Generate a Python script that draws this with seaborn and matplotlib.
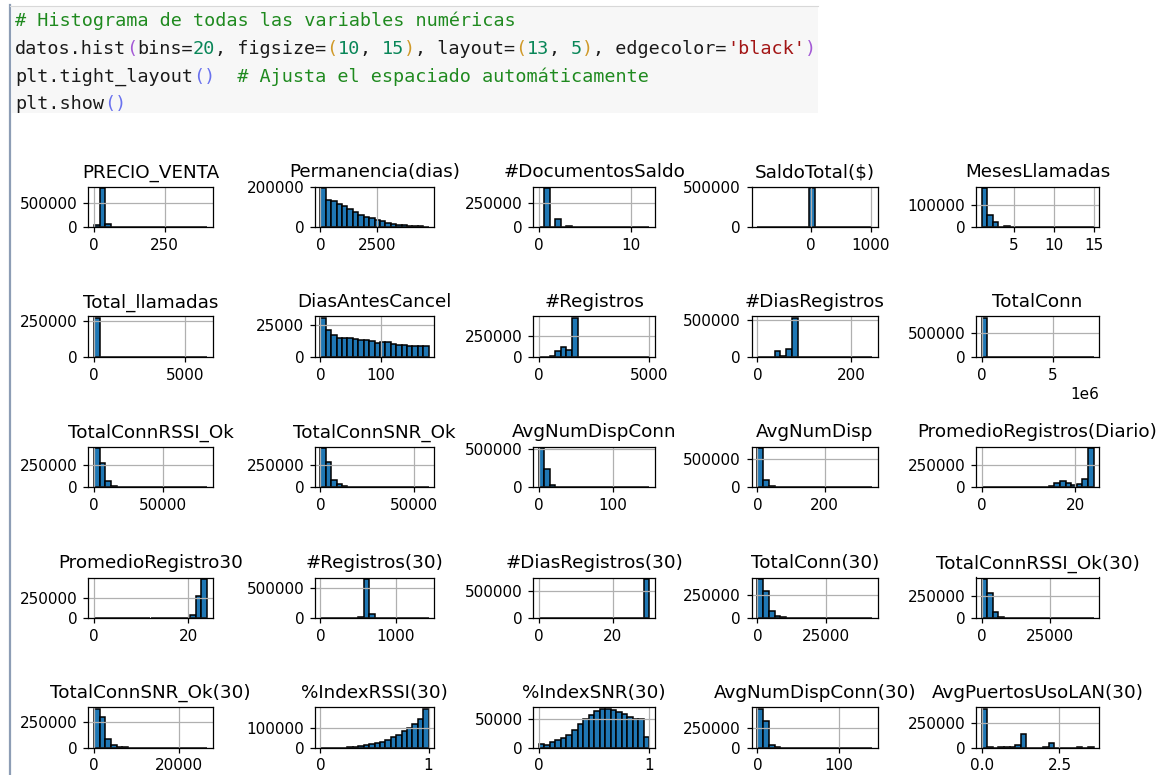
import numpy as np
import pandas as pd
import matplotlib
matplotlib.use("Agg")
import matplotlib.pyplot as plt
from matplotlib.patches import Rectangle
from matplotlib.lines import Line2D
import seaborn as sns

# ---------------- data ----------------
titles = ["PRECIO_VENTA", "Permanencia(dias)", "#DocumentosSaldo", "SaldoTotal($)", "MesesLlamadas",
          "Total_llamadas", "DiasAntesCancel", "#Registros", "#DiasRegistros", "TotalConn",
          "TotalConnRSSI_Ok", "TotalConnSNR_Ok", "AvgNumDispConn", "AvgNumDisp", "PromedioRegistros(Diario)",
          "PromedioRegistro30", "#Registros(30)", "#DiasRegistros(30)", "TotalConn(30)", "TotalConnRSSI_Ok(30)",
          "TotalConnSNR_Ok(30)", "%IndexRSSI(30)", "%IndexSNR(30)", "AvgNumDispConn(30)", "AvgPuertosUsoLAN(30)"]

# data range of every variable (min, max) -> 20 equal bins, as pandas hist does
x_min = [0, 0, 0, -894, 1,
         0, 0, 0, 0, 0,
         0, 0, 0, 0, 0,
         0, 0, 0, 0, 0,
         0, 0, 0, 0, 0]
x_max = [400, 4750, 12, 1021, 15,
         6200, 180, 5000, 245, 7.9e6,
         82000, 58000, 150, 340, 24,
         24, 1440, 30, 42000, 41000,
         26500, 1, 1, 140, 3.6]

precio_venta = [40000, 806000, 75000, 12000, 3000, 1000, 500, 300, 200, 100, 80, 50, 30, 20, 10, 10, 5, 5, 2, 1]
permanencia = [191000, 135000, 128000, 115000, 104000, 92000, 76000, 62000, 52000, 44000,
               36000, 30000, 22000, 18000, 12000, 9000, 7000, 5000, 4000, 3000]
documentos_saldo = [8000, 403000, 0, 83000, 0, 12000, 2000, 0, 800, 0, 400, 200, 0, 100, 0, 50, 30, 0, 10, 5]
saldo_total = [5, 5, 10, 10, 20, 30, 60, 150, 800, 485000, 9000, 1500, 600, 300, 150, 80, 40, 20, 10, 5]
meses_llamadas = [178000, 57000, 22000, 0, 5000, 2500, 0, 1200, 700, 0, 400, 250, 150, 0, 100, 60, 0, 40, 30, 20]
total_llamadas = [270000, 1500, 300, 100, 50, 20, 10, 5, 3, 2, 1, 1, 1, 0, 0, 1, 0, 0, 0, 1]
dias_antes_cancel = [30500, 21500, 17500, 15000, 15000, 15000, 14200, 13200, 13200, 13000,
                     11500, 12200, 12000, 10500, 10000, 9500, 9000, 8500, 9000, 9000]
registros = [3000, 8000, 20000, 75000, 115000, 90000, 450000, 2000, 500, 200, 100, 50, 30, 20, 10, 10, 5, 5, 2, 1]
dias_registros = [3000, 5000, 8000, 80000, 15000, 105000, 515000, 500, 100, 50, 20, 10, 5, 5, 2, 1, 1, 1, 0, 1]
total_conn = [815000, 3000, 500, 100, 50, 20, 10, 5, 3, 2, 1, 1, 1, 0, 0, 0, 0, 0, 0, 1]
total_conn_rssi = [433000, 275000, 70000, 18000, 5000, 1500, 600, 300, 150, 80, 50, 30, 20, 10, 10, 5, 3, 2, 1, 1]
total_conn_snr = [430000, 275000, 85000, 32000, 12000, 4000, 1500, 600, 300, 150, 80, 50, 30, 20, 10, 5, 3, 2, 1, 1]
avg_num_disp_conn = [510000, 240000, 30000, 5000, 1500, 500, 200, 100, 50, 30, 20, 10, 5, 5, 3, 2, 1, 1, 1, 1]
avg_num_disp = [680000, 130000, 20000, 4000, 1000, 400, 200, 100, 50, 30, 20, 10, 5, 5, 3, 2, 1, 1, 1, 1]
prom_reg_diario = [500, 300, 300, 400, 500, 600, 800, 1000, 1500, 2500, 5000, 8000, 15000, 45000,
                   72000, 45000, 25000, 38000, 100000, 445000]
prom_reg_30 = [200, 0, 0, 0, 0, 0, 0, 500, 800, 1000, 1200, 1500, 1800, 2200, 2800, 3500, 8000, 45000, 280000, 490000]
registros_30 = [1500, 1000, 1000, 1200, 1500, 2000, 4000, 25000, 650000, 65000, 1500, 500, 300, 200, 100, 80, 50, 30, 20, 10]
dias_registros_30 = [300, 500, 600, 700, 800, 900, 1000, 1000, 1100, 1200, 1300, 1400, 1500, 1600,
                     2000, 2500, 3000, 4000, 8000, 700000]
total_conn_30 = [415000, 295000, 78000, 24000, 9000, 3000, 1200, 500, 200, 100, 60, 40, 20, 15, 10, 5, 3, 2, 1, 1]
total_conn_rssi_30 = [435000, 285000, 65000, 15000, 5000, 1500, 600, 300, 150, 80, 50, 30, 20, 10, 5, 5, 3, 2, 1, 1]
total_conn_snr_30 = [380000, 300000, 85000, 22000, 6000, 2000, 700, 300, 150, 80, 50, 30, 20, 10, 5, 5, 3, 2, 1, 1]
index_rssi_30 = [200, 200, 300, 500, 800, 2500, 5000, 8000, 12000, 17000, 22000, 31000, 40000, 54000,
                 66000, 83000, 100000, 117000, 143000, 195000]
index_snr_30 = [6000, 4500, 10000, 14000, 17000, 23000, 32000, 41000, 50000, 58000, 64000, 68500,
                68500, 67000, 63000, 59000, 55000, 51000, 50500, 18000]
avg_num_disp_conn_30 = [490000, 335000, 30000, 3000, 800, 300, 150, 80, 50, 30, 20, 10, 5, 5, 3, 2, 1, 1, 1, 1]
avg_puertos_lan_30 = [400000, 3000, 2000, 2500, 3000, 4000, 25000, 140000, 1500, 1500, 2000, 10000, 50000,
                      1000, 500, 500, 1000, 7000, 300, 6000]

all_counts = [precio_venta, permanencia, documentos_saldo, saldo_total, meses_llamadas,
              total_llamadas, dias_antes_cancel, registros, dias_registros, total_conn,
              total_conn_rssi, total_conn_snr, avg_num_disp_conn, avg_num_disp, prom_reg_diario,
              prom_reg_30, registros_30, dias_registros_30, total_conn_30, total_conn_rssi_30,
              total_conn_snr_30, index_rssi_30, index_snr_30, avg_num_disp_conn_30, avg_puertos_lan_30]

x_ticks = [[0, 250], [0, 2500], [0, 10], [0, 1000], [5, 10, 15],
           [0, 5000], [0, 100], [0, 5000], [0, 200], [0, 5e6],
           [0, 50000], [0, 50000], [0, 100], [0, 200], [0, 20],
           [0, 20], [0, 1000], [0, 20], [0, 25000], [0, 25000],
           [0, 20000], [0, 1], [0, 1], [0, 100], [0, 2.5]]
y_ticks = [[0, 500000], [0, 200000], [0, 250000], [0, 500000], [0, 100000],
           [0, 250000], [0, 25000], [0, 250000], [0, 500000], [0, 500000],
           [0, 250000], [0, 250000], [0, 500000], [0, 500000], [0, 250000],
           [0, 250000], [0, 500000], [0, 500000], [0, 250000], [0, 250000],
           [0, 250000], [0, 100000], [0, 50000], [0, 250000], [0, 250000]]

code_lines = [
    [("# Histograma de todas las variables numéricas", "comment")],
    [("datos.hist", "text"), ("(", "paren1"), ("bins=", "text"), ("20", "num"), (", figsize=", "text"),
     ("(", "paren2"), ("10", "num"), (", ", "text"), ("15", "num"), (")", "paren2"), (", layout=", "text"),
     ("(", "paren2"), ("13", "num"), (", ", "text"), ("5", "num"), (")", "paren2"), (", edgecolor=", "text"),
     ("'black'", "str"), (")", "paren1")],
    [("plt.tight_layout", "text"), ("()", "paren3"), ("  # Ajusta el espaciado automáticamente", "comment")],
    [("plt.show", "text"), ("()", "paren3")],
]
code_colors = {"comment": "#1f8a1f", "text": "#1a1a1a", "paren1": "#a45ad6", "paren2": "#d09a2a",
               "paren3": "#6a72ee", "num": "#098658", "str": "#a31515"}

# ---------------- style ----------------
plt.rcParams.update({
    "font.family": ["DejaVu Sans"],
    "xtick.labelsize": 11, "ytick.labelsize": 11,
    "axes.titlesize": 13.2, "axes.titlepad": 6.6,
    "axes.linewidth": 0.9,
    "xtick.major.size": 3.9, "ytick.major.size": 3.9,
    "xtick.major.width": 0.9, "ytick.major.width": 0.9,
    "xtick.major.pad": 3.8, "ytick.major.pad": 3.8,
    "grid.color": "#b0b0b0", "grid.linewidth": 0.9,
})

W, H = 1170, 775
fig = plt.figure(figsize=(W / 100, H / 100), dpi=100)
fig.patch.set_facecolor("white")


def fx(x):
    return x / W


def fy(y):
    return 1 - y / H


# code cell
fig.add_artist(Rectangle((fx(12), fy(113)), fx(818) - fx(12), fy(6) - fy(113), transform=fig.transFigure,
                         facecolor="#f7f7f7", edgecolor="none", zorder=0))
fig.add_artist(Line2D([fx(10), fx(10)], [fy(5), fy(776)], color="#8d9db5", linewidth=1.6,
                      transform=fig.transFigure))
fig.add_artist(Line2D([fx(10), fx(818)], [fy(5.5), fy(5.5)], color="#d8d8d8", linewidth=0.8,
                      transform=fig.transFigure))

code_fs = 13.3
char_w = 0.6021 * code_fs * 100 / 72  # pixels per monospace char
baselines = [26, 54, 81.5, 109]
for line, yb in zip(code_lines, baselines):
    col = 0
    for txt, kind in line:
        fig.text(fx(15 + col * char_w), fy(yb), txt, fontsize=code_fs, family="DejaVu Sans Mono",
                 color=code_colors[kind], va="baseline", ha="left")
        col += len(txt)

# ---------------- histogram grid ----------------
col_left = [88.3, 315, 533.3, 751.7, 976]
col_right = [212.7, 434, 655, 877.7, 1099.3]
row_bottom = [227.3, 357.3, 487.3, 618.3, 747.7]
row_h = 40.8

for i, (title, counts) in enumerate(zip(titles, all_counts)):
    r, c = divmod(i, 5)
    l, rr, b = col_left[c], col_right[c], row_bottom[r]
    ax = fig.add_axes([fx(l), fy(b), (rr - l) / W, row_h / H])
    n = len(counts)
    step = (x_max[i] - x_min[i]) / n
    centers = [x_min[i] + (k + 0.5) * step for k in range(n)]
    df = pd.DataFrame({"value": centers, "count": counts})
    sns.histplot(data=df, x="value", weights="count", bins=n, binrange=(x_min[i], x_max[i]), ax=ax,
                 color="#1f77b4", edgecolor="black", linewidth=1.1, alpha=1.0)
    span = x_max[i] - x_min[i]
    ax.set_xlim(x_min[i] - 0.05 * span, x_max[i] + 0.05 * span)
    ax.set_ylim(0, max(counts) * 1.05)
    ax.set_xticks(x_ticks[i])
    ax.set_yticks(y_ticks[i])
    ax.set_xlabel("")
    ax.set_ylabel("")
    ax.grid(True)
    ax.set_title(title)

fig.savefig("out.png", dpi=100)
